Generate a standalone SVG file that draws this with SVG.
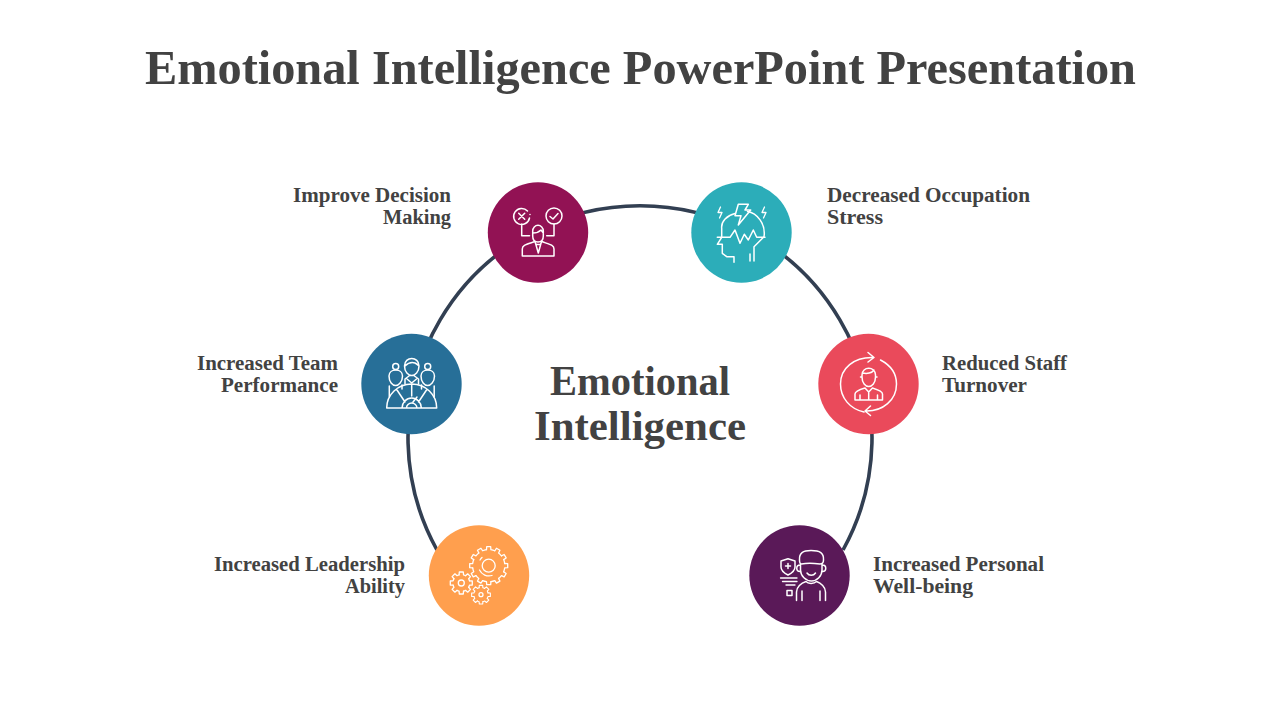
<svg xmlns="http://www.w3.org/2000/svg" xmlns:xlink="http://www.w3.org/1999/xlink" width="1280" height="720" viewBox="0 0 1280 720">
<style>
.t{font-family:"Liberation Serif",serif;font-weight:700;fill:#424242}
.title{font-size:48px}
.center{font-size:42px}
.label{font-size:20.5px}
.i{fill:none;stroke:#fff;stroke-width:1.5;stroke-linejoin:round;stroke-linecap:round}
.thin{stroke-width:1.3}
</style>
<defs>
<g id="g12"><path id="s12" d="M-2.2 -16L-2 -19H2L2.2 -16A16 16 0 0 1 6.09 -14.96"/>
<use xlink:href="#s12" transform="rotate(30)"/><use xlink:href="#s12" transform="rotate(60)"/><use xlink:href="#s12" transform="rotate(90)"/><use xlink:href="#s12" transform="rotate(120)"/><use xlink:href="#s12" transform="rotate(150)"/><use xlink:href="#s12" transform="rotate(180)"/><use xlink:href="#s12" transform="rotate(210)"/><use xlink:href="#s12" transform="rotate(240)"/><use xlink:href="#s12" transform="rotate(270)"/><use xlink:href="#s12" transform="rotate(300)"/><use xlink:href="#s12" transform="rotate(330)"/></g>
<g id="g8"><path id="s8" d="M-2.2 -8.2L-2 -11H2L2.2 -8.2A8.2 8.2 0 0 1 4.24 -7.35"/>
<use xlink:href="#s8" transform="rotate(45)"/><use xlink:href="#s8" transform="rotate(90)"/><use xlink:href="#s8" transform="rotate(135)"/><use xlink:href="#s8" transform="rotate(180)"/><use xlink:href="#s8" transform="rotate(225)"/><use xlink:href="#s8" transform="rotate(270)"/><use xlink:href="#s8" transform="rotate(315)"/></g>
</defs>
<rect width="1280" height="720" fill="#fff"/>
<text class="t title" x="640.5" y="84" text-anchor="middle" textLength="991" lengthAdjust="spacingAndGlyphs">Emotional Intelligence PowerPoint Presentation</text>
<g id="connectors"><path d="M437 550A232 232 0 1 1 843 550" fill="none" stroke="#323f52" stroke-width="3.6"/></g>
<g id="center-label">
<text class="t center" x="640" y="395" text-anchor="middle" textLength="180" lengthAdjust="spacingAndGlyphs">Emotional</text>
<text class="t center" x="640" y="440" text-anchor="middle" textLength="212" lengthAdjust="spacingAndGlyphs">Intelligence</text>
</g>
<g id="node-decision">
<circle cx="538" cy="232.5" r="50.2" fill="#921254"/>
<path class="i" d="M527.5 211A8 8 0 1 0 529.5 218M530 214.5V214.6M518.7 213.2L524.7 219.2M524.7 213.2L518.7 219.2M521.7 224V235.7H529.5"/>
<circle class="i" cx="554" cy="216" r="8"/>
<path class="i" d="M550 216.5L553 219L558 213.5M554 224V235.7H546.7"/>
<path class="i" d="M532.7 236V231A5.3 5.8 0 0 1 543.3 231V236C543.3 240 541 242 538 242C535 242 532.7 240 532.7 236ZM533 233C536 233 539 232 541 230L543.3 233"/>
<path class="i" d="M522.3 256V249C522.3 245 526 244.500 535 241.500L538.300 253L541.500 241.500C550 244.500 554 245 554 249V256ZM536.500 244.500H540"/>
</g>
<g id="node-stress">
<circle cx="741.500" cy="232.500" r="50.200" fill="#2cadb9"/>
<path class="i" d="M754 261V246.700L764 236.700C766 224 757 213 747.500 211.500M735 213.500C727 215.500 721 221 721.700 228.300V237M750 261V254M717.300 244.300H722.300V253.300L726.700 256.700H734V262.300M717.300 244.300L721.700 237.300"/>
<path class="i" d="M717.300 237.300H730L735 230L740 243.300L744.300 234.300L748.300 240L753.300 230L756.700 237.300H765"/>
<path class="i" d="M738.300 204.300H748.300L745 210H750.700L738.300 225L741 215.700H735Z"/>
<path class="i thin" d="M720.500 207L718 212.500H722L719.500 218M764.500 207L762 212.500H766L763.500 218"/>
</g>
<g id="node-team">
<circle cx="411.500" cy="384" r="50.200" fill="#276f98"/>
<path class="i" d="M386.700 408A25 24 0 0 1 436.700 408ZM411.700 384.500V396M397 390L405 402M426.500 390L418.500 402M402 408A9.700 10 0 0 1 421.400 408M406.500 408A5.200 5 0 0 1 416.900 408M413 402L417 397"/>
<path class="i" d="M404.500 366C404.500 356 419 356 419 366C419 372 415 375.500 411.700 375.500C408.500 375.500 404.500 372 404.500 366ZM405 366C408 363 412 362 415 363C417 364 418 365 419 366M405 384V379L409 376M418.500 384V379L414.500 376M407 379L411.700 383L416.500 379"/>
<path class="i" d="M389 376C389 368 402.500 368 402.500 376C402.500 382 398.500 385.500 395.700 385.500C392.500 385.500 389 382 389 376ZM389.300 397V386M402 389V385"/>
<circle class="i" cx="395.700" cy="366.500" r="3"/>
<path class="i" d="M421 376C421 368 434.500 368 434.500 376C434.500 382 430.500 385.500 427.700 385.500C424.500 385.500 421 382 421 376ZM434.200 397V386M421.500 389V385"/>
<circle class="i" cx="427.700" cy="366.500" r="3"/>
</g>
<g id="node-turnover">
<circle cx="868.500" cy="384" r="50.200" fill="#ea4a5b"/>
<path class="i" d="M864 412C850 409 840.500 398 840.500 384C840.500 368 854 357 873 357.500M868 352.500L874 357.500L868 362"/>
<path class="i" d="M880.500 360C890 365 896.500 373 896.500 384C896.500 400 883 411.500 865.500 411M870.500 406L865 411L870.500 415.500"/>
<path class="i" d="M862 377V375C862 366 875.500 366 875.500 375V377C875.500 383 872 386.500 868.700 386.500C865.500 386.500 862 383 862 377ZM862 377H860.500M875.500 377H877M863 373C867 374 872 373 874 370"/>
<path class="i" d="M855 400V394C855 391.500 858 390 865 388L868.700 392L872.500 388C879 390 882.500 391.500 882.500 394V400ZM860 395V400M877.500 395V400M868.700 392V400"/>
</g>
<g id="node-leadership">
<circle cx="479" cy="575.500" r="50.200" fill="#ff9f4e"/>
<g class="i thin">
<use xlink:href="#g12" transform="translate(488.700 565.700)"/>
<use xlink:href="#g8" transform="translate(461.300 583)"/>
<use xlink:href="#g8" transform="translate(481 594.700) scale(.85)"/>
<circle cx="488.700" cy="565.700" r="6.500"/>
<path d="M479.500 570A10.500 10.500 0 0 0 492 575.500M480 560A10.500 10.500 0 0 1 482 557.500"/>
<circle cx="461.300" cy="583" r="3"/>
<circle cx="481" cy="594.700" r="2"/>
</g>
</g>
<g id="node-wellbeing">
<circle cx="799.500" cy="575.500" r="50.200" fill="#5a1958"/>
<path class="i" d="M799.500 560C799 553 803 550.500 811 550.500C820 550.500 824 553 823.500 560C823.500 563 822 564 820 564C813 563 806 563 801.500 564C800 564 799.500 563 799.500 560Z"/>
<path class="i" d="M800.500 564V570C800.500 576 806 581 811.500 581C817 581 822 576 822 570V564M800 565A3 3 0 0 0 800 571.500M822.500 565A3 3 0 0 1 822.500 571.500M807 573C809 576 813.500 576 815.500 573"/>
<path class="i" d="M796.500 600.500V592C796.500 587 801 583 806 581.500C808 584 814 584 816.500 581.500C821 583 825.500 587 825.500 592V600.500M802 591V600.500M820 591V600.500"/>
<path class="i" d="M788 558.700L781 561V567C781 570.500 784 573 788 575C791 573.500 795 570.500 795 567V561ZM785.500 566H790.500M788 563.500V568.500"/>
<path class="i thin" d="M780.500 578H797M782.500 581.500H797M786 585H795"/>
<rect class="i" x="787" y="590.500" width="5" height="5"/>
</g>
<g id="labels">
<text class="t label" x="451" y="202" text-anchor="end" textLength="158" lengthAdjust="spacingAndGlyphs">Improve Decision</text>
<text class="t label" x="451" y="224" text-anchor="end" textLength="68" lengthAdjust="spacingAndGlyphs">Making</text>
<text class="t label" x="827" y="202" textLength="203" lengthAdjust="spacingAndGlyphs">Decreased Occupation</text>
<text class="t label" x="827" y="224" textLength="56" lengthAdjust="spacingAndGlyphs">Stress</text>
<text class="t label" x="338" y="370" text-anchor="end" textLength="141" lengthAdjust="spacingAndGlyphs">Increased Team</text>
<text class="t label" x="338" y="392" text-anchor="end" textLength="117" lengthAdjust="spacingAndGlyphs">Performance</text>
<text class="t label" x="942" y="370" textLength="125" lengthAdjust="spacingAndGlyphs">Reduced Staff</text>
<text class="t label" x="942" y="392" textLength="85" lengthAdjust="spacingAndGlyphs">Turnover</text>
<text class="t label" x="405" y="571" text-anchor="end" textLength="191" lengthAdjust="spacingAndGlyphs">Increased Leadership</text>
<text class="t label" x="405" y="593" text-anchor="end" textLength="60" lengthAdjust="spacingAndGlyphs">Ability</text>
<text class="t label" x="873" y="571" textLength="171" lengthAdjust="spacingAndGlyphs">Increased Personal</text>
<text class="t label" x="873" y="593" textLength="100" lengthAdjust="spacingAndGlyphs">Well-being</text>
</g>
</svg>
